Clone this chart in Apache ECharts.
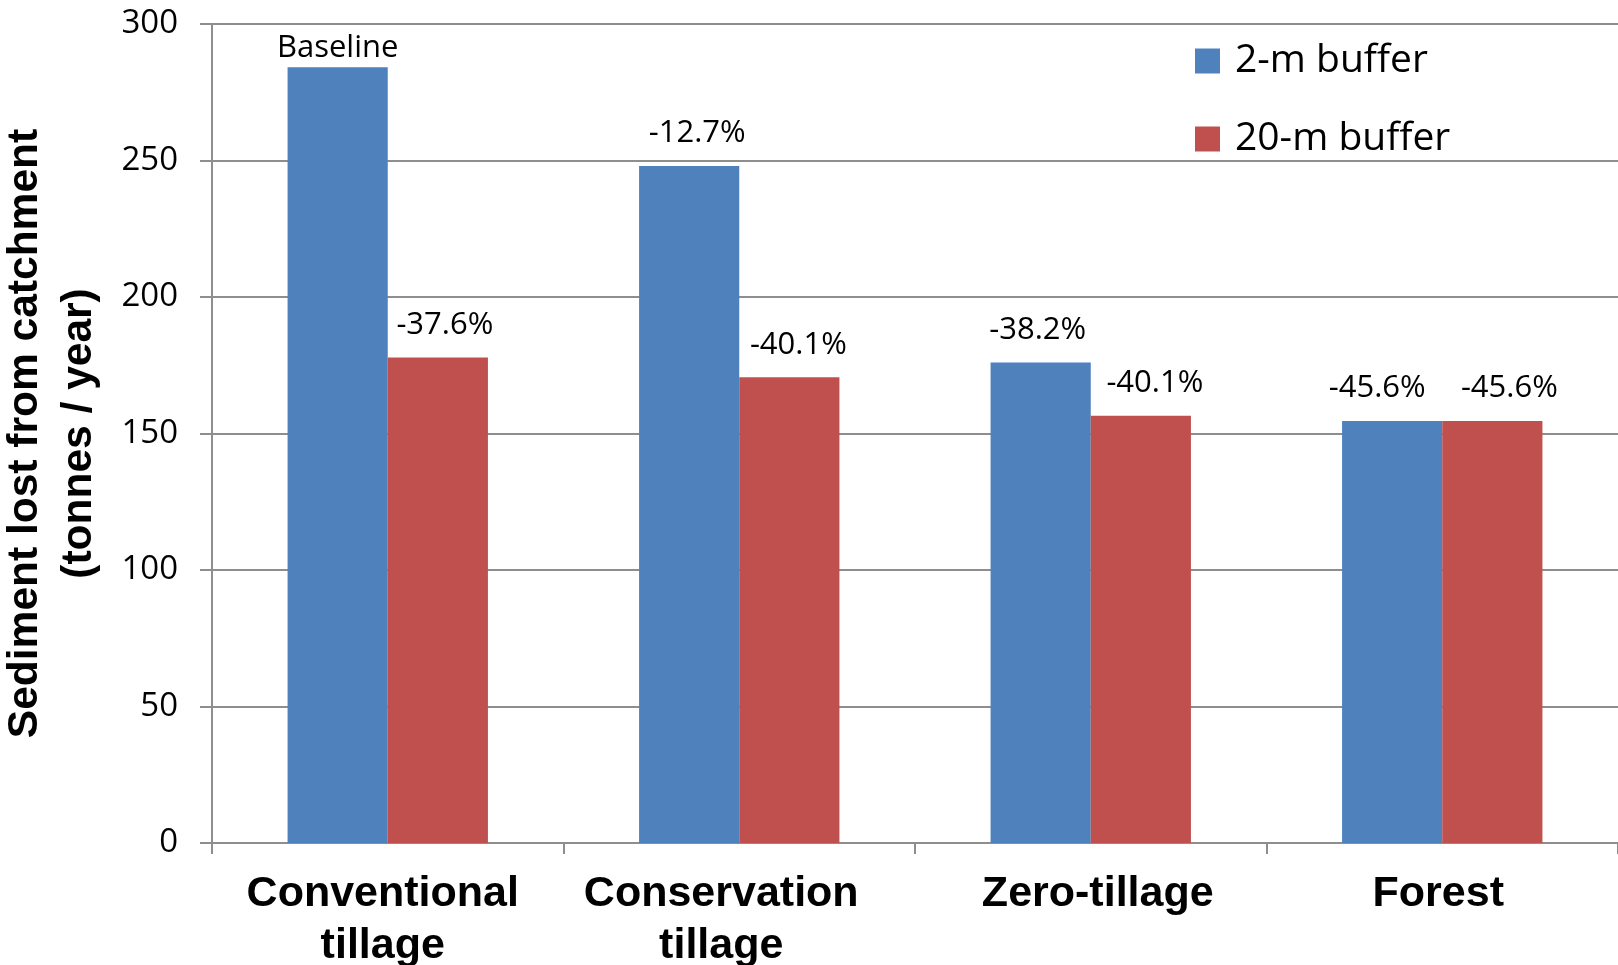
<!DOCTYPE html>
<html>
<head>
<meta charset="utf-8">
<script src="https://cdn.jsdelivr.net/npm/echarts@6/dist/echarts.min.js"></script>
<style>
  html, body { margin: 0; padding: 0; background: #fff; }
  #chart { width: 1618px; height: 965px; }
</style>
</head>
<body>
<div id="chart"></div>
<script>
// Sediment lost from catchment under four land-management scenarios
const categories = ['Conventional\ntillage', 'Conservation\ntillage', 'Zero-tillage', 'Forest'];
const seriesNames = ['2-m buffer', '20-m buffer'];
const buffer2m = [284.2, 248, 176, 154.6];
const buffer20m = [177.8, 170.6, 156.5, 154.6];
const labels2m = ['Baseline', '-12.7%', '-38.2%', '-45.6%'];
const labels20m = ['-37.6%', '-40.1%', '-40.1%', '-45.6%'];
const yTicks = { min: 0, max: 300, interval: 50 };

// horizontal nudges (px) so neighbouring value labels do not collide
const labelShift2m = [0, 8, -3, -15];
const labelShift20m = [7, 9, 14, 17];
// horizontal nudges (px) for the category names
const categoryShift = [-5, -18, 7, -4];

const colors = ['#4F81BD', '#C0504D'];
const gridGray = '#8e8e8e';
const boldFont = "'Liberation Sans', Arial, sans-serif";
const plainFont = "'Open Sans', Lato, sans-serif";

function buildData(values, texts, shifts) {
  return values.map((v, i) => ({
    value: v,
    label: {
      formatter: texts[i],
      distance: texts[i] === 'Baseline' ? 3 : 17,
      offset: [shifts[i], 0]
    }
  }));
}

function buildCategories(names, shifts) {
  return names.map((name, i) => {
    const s = shifts[i];
    return {
      value: name,
      textStyle: { padding: s < 0 ? [0, -2 * s, 0, 0] : [0, 0, 0, 2 * s] }
    };
  });
}

const chart = echarts.init(document.getElementById('chart'), null, { renderer: 'canvas' });

chart.setOption({
  animation: false,
  backgroundColor: '#ffffff',
  color: colors,
  grid: { left: 212, right: 0, top: 24, bottom: 122, containLabel: false, outerBoundsMode: 'none' },
  legend: {
    orient: 'vertical',
    left: 1195,
    top: 41,
    padding: 0,
    icon: 'rect',
    itemWidth: 25,
    itemHeight: 25,
    itemGap: 38,
    data: seriesNames,
    textStyle: {
      fontFamily: plainFont,
      fontSize: 39,
      lineHeight: 40,
      color: '#000',
      padding: [0, 0, 0, 10]
    }
  },
  xAxis: {
    type: 'category',
    data: buildCategories(categories, categoryShift),
    axisLine: { lineStyle: { color: gridGray, width: 2 } },
    axisTick: { show: true, length: 11, lineStyle: { color: gridGray, width: 2 } },
    axisLabel: {
      interval: 0,
      margin: 25,
      color: '#000',
      fontFamily: boldFont,
      fontWeight: 'bold',
      fontSize: 43,
      lineHeight: 52
    }
  },
  yAxis: {
    type: 'value',
    min: yTicks.min,
    max: yTicks.max,
    interval: yTicks.interval,
    name: 'Sediment lost from catchment\n(tonnes / year)',
    nameLocation: 'middle',
    nameGap: 106,
    nameTextStyle: {
      color: '#000',
      fontFamily: boldFont,
      fontWeight: 'bold',
      fontSize: 42.5,
      lineHeight: 54
    },
    axisLine: { show: true, lineStyle: { color: gridGray, width: 2 } },
    axisTick: { show: true, length: 12, lineStyle: { color: gridGray, width: 2 } },
    splitLine: { show: true, lineStyle: { color: gridGray, width: 2 } },
    axisLabel: {
      margin: 34,
      color: '#000',
      fontFamily: plainFont,
      fontSize: 33
    }
  },
  series: [
    {
      name: seriesNames[0],
      type: 'bar',
      barGap: '0%',
      barCategoryGap: '43%',
      data: buildData(buffer2m, labels2m, labelShift2m),
      label: { show: true, position: 'top', color: '#000', fontFamily: plainFont, fontSize: 31 }
    },
    {
      name: seriesNames[1],
      type: 'bar',
      barGap: '0%',
      barCategoryGap: '43%',
      data: buildData(buffer20m, labels20m, labelShift20m),
      label: { show: true, position: 'top', color: '#000', fontFamily: plainFont, fontSize: 31 }
    }
  ]
});
</script>
</body>
</html>
